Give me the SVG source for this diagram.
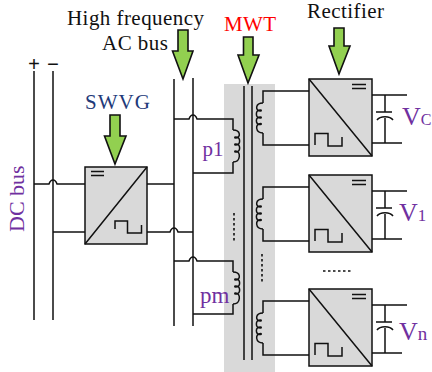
<svg xmlns="http://www.w3.org/2000/svg" width="432" height="372" viewBox="0 0 432 372">
<style>
.w{fill:none;stroke:#111;stroke-width:1.5}
.box{fill:#d9d9d9;stroke:#111;stroke-width:1.5}
.arr{fill:#92d050;stroke:#111;stroke-width:1.6;stroke-linejoin:miter}
.dot{fill:none;stroke:#111;stroke-width:1.6;stroke-dasharray:2.5 2.5}
text{font-family:"Liberation Serif","Times New Roman",serif}
.k{fill:#111;font-size:21px}
.p{fill:#7030a0}
</style>
<defs>
<path id="coilL" class="w" d="M0 0C8 0 8 8 2.500 8C1.500 8 1.500 7 2.500 7C8 7 8 15 2.500 15C1.500 15 1.500 14 2.500 14C8 14 8 22 2.500 22C1.500 22 1.500 21 2.500 21C8 21 8 32 0 32"/>
<path id="coilR" class="w" d="M0 0C-8 0 -8 8 -2.500 8C-1.500 8 -1.500 7 -2.500 7C-8 7 -8 15 -2.500 15C-1.500 15 -1.500 14 -2.500 14C-8 14 -8 21.500 -2.500 21.500C-1.500 21.500 -1.500 20.500 -2.500 20.500C-8 20.500 -8 30 0 30"/>
<g id="rect">
<rect class="box" x="309" y="79" width="63" height="77"/>
<path class="w" d="M309 79L372 156M352 84.500H366M352 88.500H366M315 145V133.500H328V146H342V137"/>
<path class="w" d="M372 95H407M372 143H402M385 95V112M385 118V143M376 112H392M377 120C380 115.500 390 115.500 393 120"/>
<path class="w" d="M309 91H263V103M263 133V145H309"/>
<use href="#coilR" transform="translate(263 103)"/>
</g>
</defs>
<rect id="mwt-core-bg" x="224" y="84" width="51" height="288" fill="#d9d9d9"/>
<g id="connectors">
<path class="w" d="M34 71V320M53 71V320M174 79V326M193 78V326"/>
<path class="w" d="M34 184H49C50 181 52 180 53 180C54 180 56 181 57 184H85"/>
<path class="w" d="M53 232H85"/>
<path class="w" d="M147 184H174"/>
<path class="w" d="M147 232H170C171 229 173 228 174 228C175 228 177 229 178 232H193"/>
<path class="w" d="M174 119H189C190 116 192 115 193 115C194 115 196 116 197 119H233V130M233 162V173H193"/>
<path class="w" d="M174 261H189C190 258 192 257 193 257C194 257 196 258 197 261H233V272M233 304V314H193"/>
<path class="w" d="M244 86V360M252 86V360"/>
<path class="dot" d="M234 213V243M262 254V284M323 271H353"/>
<use href="#coilL" transform="translate(233 130)"/>
<use href="#coilL" transform="translate(233 272)"/>
</g>
<g id="swvg">
<rect class="box" x="85" y="167" width="62" height="77"/>
<path class="w" d="M85 244L147 167M91 171.500H104M91 175.500H104M115 229V221H127.500V233H141.500V225"/>
<text x="85" y="109" font-size="21" fill="#1f3a7a" textLength="65">SWVG</text>
</g>
<g id="rectifier-c"><use href="#rect"/></g>
<g id="rectifier-1"><use href="#rect" transform="translate(0 96)"/></g>
<g id="rectifier-n"><use href="#rect" transform="translate(0 210)"/></g>
<g id="arrows">
<path class="arr" d="M178 30H188V51H193L183 79L172.500 51H178Z"/>
<path class="arr" d="M110 115H120V136H126L115 164L104.500 136H110Z"/>
<path class="arr" d="M243.500 37H253V55H259L248 83L238 55H243.500Z"/>
<path class="arr" d="M334 28H344V46H350L339 74L329 46H334Z"/>
</g>
<g id="labels">
<text class="k" x="67" y="25" textLength="137">High frequency</text>
<text class="k" x="102" y="50" textLength="66">AC bus</text>
<text x="224" y="31" font-size="21" fill="#ff0000" textLength="52">MWT</text>
<text class="k" x="307" y="18" textLength="77">Rectifier</text>
<text class="k" x="34" y="71" text-anchor="middle" font-weight="bold">+</text>
<text class="k" x="53" y="71" text-anchor="middle" font-weight="bold">−</text>
<text class="p" x="24" y="232" font-size="22" transform="rotate(-90 24 232)">DC bus</text>
<text class="p" x="202.500" y="156" font-size="21">p1</text>
<text class="p" x="200" y="303" font-size="23">pm</text>
<text class="p" x="402" y="125" font-size="26">V<tspan font-size="16">C</tspan></text>
<text class="p" x="399" y="221" font-size="26">V<tspan font-size="17">1</tspan></text>
<text class="p" x="399" y="340" font-size="26">V<tspan font-size="19">n</tspan></text>
</g>
</svg>
